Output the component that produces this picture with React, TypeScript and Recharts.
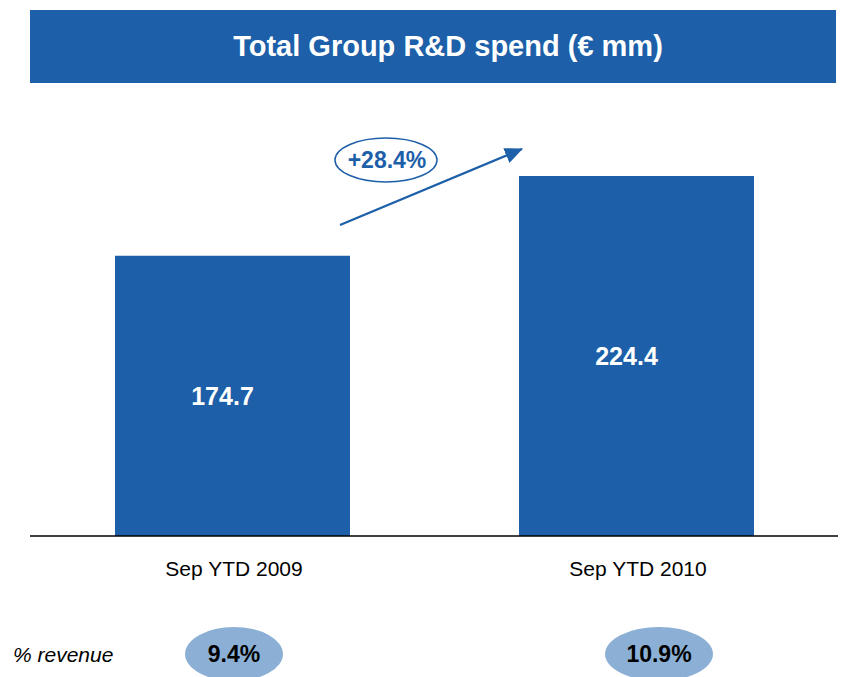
import { BarChart, Bar, XAxis, YAxis, LabelList } from 'recharts'

const periods = ['Sep YTD 2009', 'Sep YTD 2010']
const spend = [174.7, 224.4]
const revenueShare = ['9.4%', '10.9%']
const growthLabel = '+28.4%'

const BLUE = '#1d5fa8'
const LIGHT = '#8cb0d5'
const FONT = '"Liberation Sans", Arial, sans-serif'

const data = periods.map((p, i) => ({ name: p, value: spend[i] }))

function PeriodTick({ x, y, payload }: any) {
  return (
    <text x={x + 2} y={y + 26} textAnchor="middle" dominantBaseline="middle" fontSize={21} fill="#000" fontFamily={FONT}>
      {payload.value}
    </text>
  )
}

export default function App() {
  return (
    <div style={{ position: 'absolute', left: 0, top: 0, width: 858, height: 677, background: '#fff', fontFamily: FONT, overflow: 'hidden' }}>
      <div style={{
        position: 'absolute', left: 30, top: 10, width: 806, height: 73, background: BLUE,
        color: '#fff', fontWeight: 'bold', fontSize: 29, lineHeight: '73px', textAlign: 'center',
      }}>
        <span style={{ position: 'relative', left: 15 }}>Total Group R&amp;D spend (€ mm)</span>
      </div>

      <BarChart width={858} height={677} data={data} margin={{ top: 135, right: 20, bottom: 101, left: 30 }}>
        <XAxis
          dataKey="name"
          height={40}
          axisLine={{ stroke: '#000', strokeWidth: 1.5 }}
          tickLine={false}
          tick={<PeriodTick />}
          interval={0}
        />
        <YAxis hide domain={[0, 250]} />
        <Bar dataKey="value" fill={BLUE} barSize={235} isAnimationActive={false}>
          <LabelList dataKey="value" position="center" dx={-10} fill="#fff" fontSize={25} fontWeight="bold" fontFamily={FONT} />
        </Bar>
      </BarChart>

      <svg width={858} height={677} style={{ position: 'absolute', left: 0, top: 0, pointerEvents: 'none' }}>
        <defs>
          <marker id="head" markerWidth="18" markerHeight="16" refX="17" refY="8" orient="auto" markerUnits="userSpaceOnUse">
            <path d="M0,0 L18,8 L0,16 Z" fill={BLUE} />
          </marker>
        </defs>
        <line x1={340} y1={225} x2={522} y2={149} stroke={BLUE} strokeWidth={2.2} markerEnd="url(#head)" />
        <ellipse cx={386} cy={160} rx={51} ry={22} fill="#fff" stroke={BLUE} strokeWidth={1.5} />
        <text x={387} y={160} textAnchor="middle" dominantBaseline="central" fontSize={23} fontWeight="bold" fill={BLUE} fontFamily={FONT}>
          {growthLabel}
        </text>

        <text x={13} y={654} dominantBaseline="central" fontSize={21} fontStyle="italic" fill="#000" fontFamily={FONT}>
          % revenue
        </text>
        {revenueShare.map((s, i) => {
          const cx = i === 0 ? 234 : 659
          const rx = i === 0 ? 49 : 54
          return (
            <g key={s}>
              <ellipse cx={cx} cy={654} rx={rx} ry={27} fill={LIGHT} />
              <text x={cx} y={654} textAnchor="middle" dominantBaseline="central" fontSize={23} fontWeight="bold" fill="#000" fontFamily={FONT}>
                {s}
              </text>
            </g>
          )
        })}
      </svg>
    </div>
  )
}
